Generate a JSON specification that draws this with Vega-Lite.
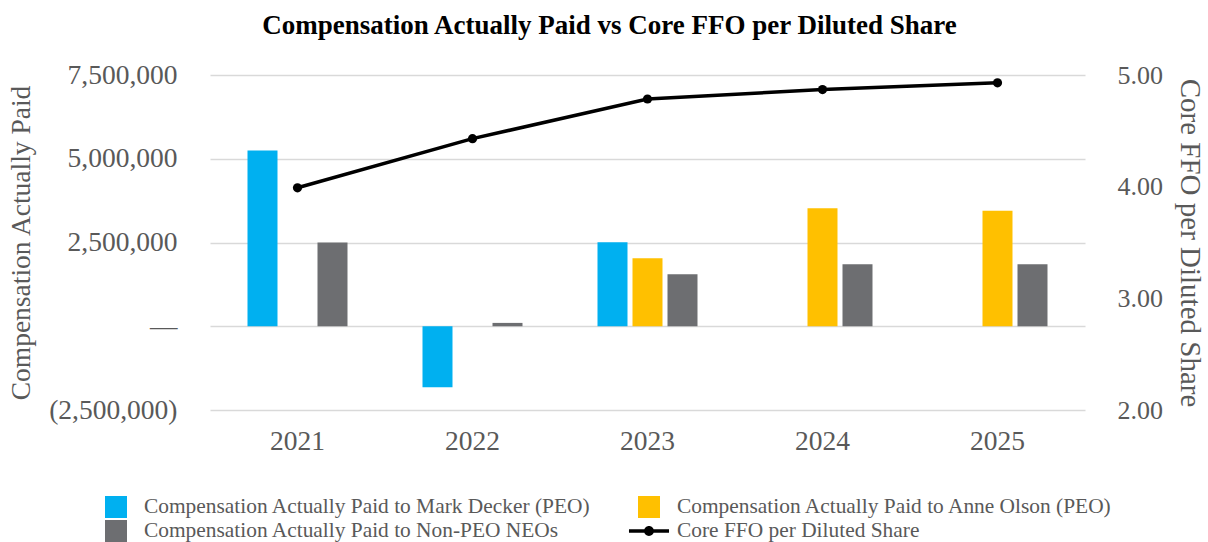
{
  "$schema": "https://vega.github.io/schema/vega-lite/v6.json",
  "autosize": "none",
  "width": 875,
  "height": 335,
  "padding": {"left": 210, "top": 75, "right": 123, "bottom": 132},
  "background": "white",
  "title": {
    "text": "Compensation Actually Paid vs Core FFO per Diluted Share",
    "font": "Liberation Serif",
    "fontSize": 27,
    "fontWeight": "bold",
    "color": "#000000",
    "anchor": "middle",
    "dx": -38,
    "offset": 21
  },
  "config": {
    "view": {"stroke": null},
    "axis": {
      "labelFont": "Liberation Serif",
      "titleFont": "Liberation Serif",
      "labelColor": "#595959",
      "titleColor": "#595959",
      "titleFontWeight": "normal",
      "domain": false,
      "ticks": false
    }
  },
  "datasets": {
    "bars": [
      {"year": "2021", "series": "Compensation Actually Paid to Mark Decker (PEO)", "value": 5250000},
      {"year": "2021", "series": "Compensation Actually Paid to Non-PEO NEOs", "value": 2500000},
      {"year": "2022", "series": "Compensation Actually Paid to Mark Decker (PEO)", "value": -1820000},
      {"year": "2022", "series": "Compensation Actually Paid to Non-PEO NEOs", "value": 100000},
      {"year": "2023", "series": "Compensation Actually Paid to Mark Decker (PEO)", "value": 2510000},
      {"year": "2023", "series": "Compensation Actually Paid to Anne Olson (PEO)", "value": 2030000},
      {"year": "2023", "series": "Compensation Actually Paid to Non-PEO NEOs", "value": 1555000},
      {"year": "2024", "series": "Compensation Actually Paid to Anne Olson (PEO)", "value": 3520000},
      {"year": "2024", "series": "Compensation Actually Paid to Non-PEO NEOs", "value": 1850000},
      {"year": "2025", "series": "Compensation Actually Paid to Anne Olson (PEO)", "value": 3450000},
      {"year": "2025", "series": "Compensation Actually Paid to Non-PEO NEOs", "value": 1850000}
    ],
    "ffo": [
      {"year": "2021", "ffo": 3.99},
      {"year": "2022", "ffo": 4.43},
      {"year": "2023", "ffo": 4.785},
      {"year": "2024", "ffo": 4.87},
      {"year": "2025", "ffo": 4.93}
    ]
  },
  "encoding": {
    "x": {
      "field": "year",
      "type": "nominal",
      "scale": {"paddingInner": 0.4286, "paddingOuter": 0.2143},
      "axis": {
        "title": null,
        "labelAngle": 0,
        "labelFontSize": 27.5,
        "labelPadding": 17
      }
    }
  },
  "layer": [
    {
      "data": {"name": "bars"},
      "mark": {"type": "bar"},
      "encoding": {
        "xOffset": {
          "field": "series",
          "type": "nominal",
          "scale": {
            "domain": [
              "Compensation Actually Paid to Mark Decker (PEO)",
              "Compensation Actually Paid to Anne Olson (PEO)",
              "Compensation Actually Paid to Non-PEO NEOs"
            ],
            "paddingInner": 0.143,
            "paddingOuter": 0
          }
        },
        "y": {
          "field": "value",
          "type": "quantitative",
          "scale": {"domain": [-2500000, 7500000], "nice": false, "zero": false},
          "axis": {
            "title": "Compensation Actually Paid",
            "titleFontSize": 27.5,
            "titlePadding": 13,
            "labelFontSize": 27.5,
            "labelPadding": 33,
            "values": [-2500000, 0, 2500000, 5000000, 7500000],
            "labelExpr": "datum.value == 0 ? '—' : (datum.value < 0 ? '(' + format(-datum.value, ',') + ')' : format(datum.value, ','))",
            "grid": true,
            "gridColor": "#D9D9D9",
            "gridWidth": 1.5
          }
        },
        "color": {
          "field": "series",
          "type": "nominal",
          "scale": {
            "domain": [
              "Compensation Actually Paid to Mark Decker (PEO)",
              "Compensation Actually Paid to Anne Olson (PEO)",
              "Compensation Actually Paid to Non-PEO NEOs",
              "Core FFO per Diluted Share"
            ],
            "range": ["#00B0F0", "#FFC000", "#6D6E71", "#000000"]
          },
          "legend": {
            "orient": "none",
            "direction": "horizontal",
            "legendX": -105,
            "legendY": 421,
            "columns": 2,
            "title": null,
            "padding": 0,
            "symbolSize": 484,
            "symbolStrokeWidth": 0,
            "labelFont": "Liberation Serif",
            "labelFontSize": 21.4,
            "labelColor": "#595959",
            "labelOffset": 17,
            "labelLimit": 700,
            "columnPadding": 37,
            "rowPadding": 2,
            "encode": {
              "symbols": {
                "update": {
                  "shape": {"signal": "datum.value === 'Core FFO per Diluted Share' ? 'M-1.82,-0.16L1.82,-0.16L1.82,0.16L-1.82,0.16Z M0.45,0A0.45,0.45 0 1,1 -0.45,0A0.45,0.45 0 1,1 0.45,0Z' : 'square'"},
                  "strokeWidth": {"value": 0}
                }
              }
            }
          }
        }
      }
    },
    {
      "data": {"name": "ffo"},
      "mark": {"type": "line", "strokeWidth": 3.5, "point": {"filled": true, "size": 85}},
      "encoding": {
        "x": {"field": "year", "type": "nominal", "bandPosition": 0.5},
        "y": {
          "field": "ffo",
          "type": "quantitative",
          "scale": {"domain": [2, 5], "nice": false, "zero": false},
          "axis": {
            "orient": "right",
            "title": "Core FFO per Diluted Share",
            "titleFontSize": 29,
            "titlePadding": 12,
            "labelFontSize": 26,
            "labelPadding": 32,
            "values": [2, 3, 4, 5],
            "format": ".2f",
            "grid": false
          }
        },
        "color": {"datum": "Core FFO per Diluted Share"}
      }
    }
  ],
  "resolve": {"scale": {"y": "independent"}}
}
